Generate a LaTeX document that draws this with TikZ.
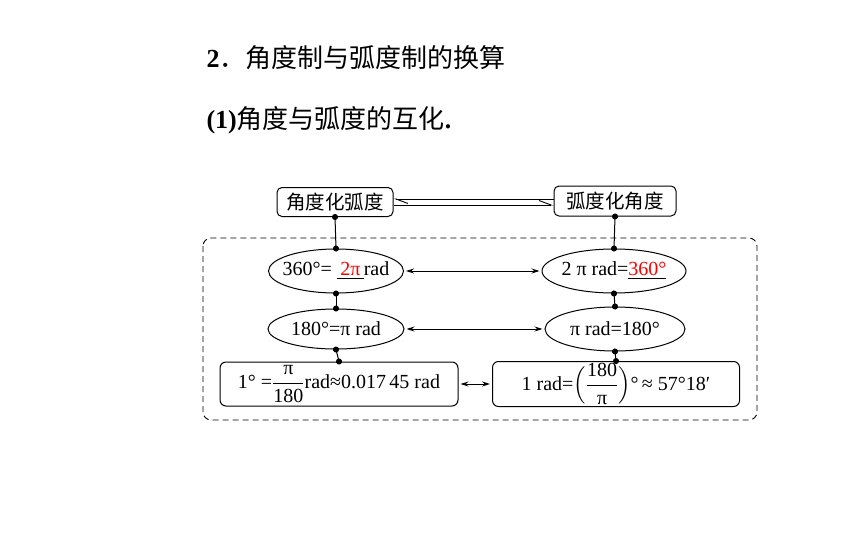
\documentclass[tikz,border=0pt]{standalone}
\usepackage{amsmath}
\usepackage{fontspec}
\setmainfont{Liberation Serif}
\newfontfamily\cjk{Noto Sans CJK SC}
\usepackage{xcolor}
\usepackage{tikz}
\usetikzlibrary{arrows.meta, shapes.geometric}
\tikzset{
    namebox/.style={draw, rounded corners=5pt, line width=1pt, inner sep=0pt, font=\fontsize{19.5}{22}\selectfont\cjk},
    formbox/.style={draw, rounded corners=6pt, line width=1pt, inner sep=0pt, font=\fontsize{20}{23}\selectfont},
    formoval/.style={ellipse, draw, line width=1pt, inner xsep=-8pt, inner ysep=0pt, font=\fontsize{20}{23}\selectfont},
    link/.style={{Circle[length=6pt]}-{Circle[length=6pt]}, line width=1pt, shorten <=-3pt, shorten >=-3pt},
    both/.style={{Stealth[length=8pt, width=5pt]}-{Stealth[length=8pt, width=5pt]}, line width=0.9pt, shorten <=2pt, shorten >=2pt},
    harpoon/.style={-{Straight Barb[left, length=12pt, width=9pt]}, line width=0.9pt}
}
\begin{document}
\begin{tikzpicture}[x=1pt, y=-1pt]
    \useasboundingbox (0,0) rectangle (861,538);
    % headings
    \node[anchor=west, font=\fontsize{26}{30}\selectfont] (head) at (203,58) {\textbf{2}\cjk．角度制与弧度制的换算};
    \node[anchor=west, font=\fontsize{26}{30}\selectfont] (sub) at (203,120) {\textbf{(1)}{\cjk 角度与弧度的互化}\textbf{.}};
    % top boxes
    \node[namebox, minimum width=116pt, minimum height=29pt] (jd2hd) at (335,202) {角度化弧度};
    \node[namebox, minimum width=122pt, minimum height=30pt] (hd2jd) at (615,201) {弧度化角度};
    \draw[harpoon] ([yshift=-3pt]jd2hd.east) -- ([yshift=-3pt]hd2jd.west |- jd2hd.east);
    \draw[harpoon] ([yshift=3pt]hd2jd.west |- jd2hd.east) -- ([yshift=3pt]jd2hd.east);
    \draw[dash pattern=on 6pt off 4pt, rounded corners=8pt, line width=0.9pt] (203,238) rectangle (757,420); % frame
    % left column
    \node[formoval, minimum width=135pt, minimum height=44pt] (deg360) at (336,271) {360°= \underline{\,\textcolor{red}{2π}\,}rad};
    \node[formoval, minimum width=136pt, minimum height=40pt] (deg180) at (336,329) {180°=π rad};
    \node[formbox, minimum width=238pt, minimum height=44pt] (onedeg) at (339,384) {1° =$\dfrac{\mbox{π}}{\mbox{180}}$rad≈0.017\,45 rad};
    % right column
    \node[formoval, minimum width=144pt, minimum height=44pt] (rad2pi) at (614,271) {2 π rad=\underline{\textcolor{red}{360°}}};
    \node[formoval, minimum width=140pt, minimum height=44pt] (radpi) at (615,329) {π rad=180°};
    \node[formbox, minimum width=247pt, minimum height=45pt] (onerad) at (616,384) {1 rad=$\Bigl(\dfrac{\mbox{180}}{\mbox{π}}\Bigr)$°\,≈ 57°18′};
    % dotted links
    \draw[link] (jd2hd.south) -- (deg360.north);
    \draw[link] (deg360.south) -- (deg180.north);
    \draw[link] (deg180.south) -- (onedeg.north);
    \draw[link] (hd2jd.south) -- (rad2pi.north);
    \draw[link] (rad2pi.south) -- (radpi.north);
    \draw[link] (radpi.south) -- (onerad.north);
    % two-way arrows
    \draw[both] (deg360.east) -- (rad2pi.west);
    \draw[both] (deg180.east) -- (radpi.west);
    \draw[both] (onedeg.east) -- (onerad.west);
\end{tikzpicture}
\end{document}
